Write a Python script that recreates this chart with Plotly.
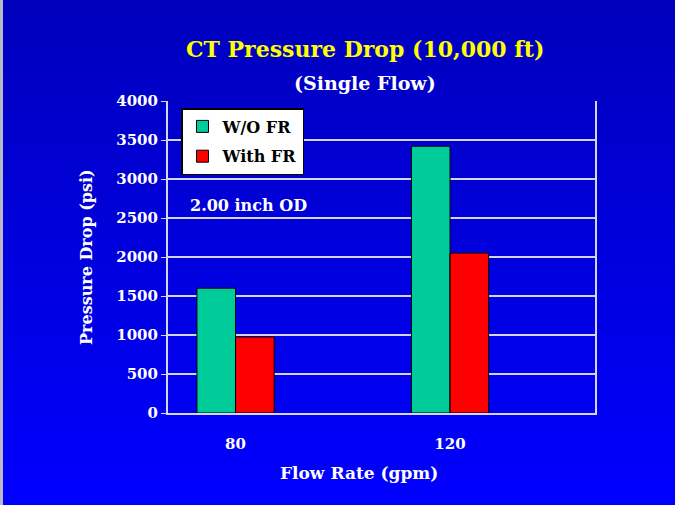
import base64
import plotly.graph_objects as go

categories = ["80", "120"]
wo_fr = [1600, 3420]
with_fr = [975, 2050]
series_names = ["W/O FR", "With FR"]
y_ticks = [0, 500, 1000, 1500, 2000, 2500, 3000, 3500, 4000]

W, H = 675, 505
ML, MR, MT, MB = 168, 80, 101, 92
PW, PH = W - ML - MR, H - MT - MB

SERIF = "DejaVu Serif, serif"

svg = (
    '<svg xmlns="http://www.w3.org/2000/svg" width="675" height="505" preserveAspectRatio="none">'
    '<defs><linearGradient id="g" x1="0" y1="0" x2="0" y2="1">'
    '<stop offset="0" stop-color="#0000BC"/><stop offset="1" stop-color="#0000FF"/>'
    '</linearGradient></defs><rect width="675" height="505" fill="url(#g)"/></svg>'
)
bg_src = "data:image/svg+xml;base64," + base64.b64encode(svg.encode()).decode()

fig = go.Figure()
fig.add_trace(go.Bar(x=categories, y=wo_fr, name=series_names[0], legendgroup="a",
                     marker=dict(color="#00CC99", line=dict(color="black", width=1))))
fig.add_trace(go.Bar(x=categories, y=with_fr, name=series_names[1], legendgroup="b",
                     marker=dict(color="#FF0000", line=dict(color="black", width=1))))

grid = "#D4D4F4"
fig.update_layout(
    width=W, height=H,
    margin=dict(l=ML, r=MR, t=MT, b=MB),
    paper_bgcolor="#0000DD",
    plot_bgcolor="rgba(0,0,0,0)",
    barmode="group", bargap=0.64, bargroupgap=0,
    showlegend=True,
    legend=dict(x=13 / PW, y=1 - 7 / PH, xanchor="left", yanchor="top",
                bgcolor="white", bordercolor="black", borderwidth=1.5,
                font=dict(family=SERIF, size=16, color="black", weight="bold"),
                tracegroupgap=6),
    images=[dict(source=bg_src, xref="paper", yref="paper",
                 x=-ML / PW, y=1 + MT / PH, sizex=W / PW, sizey=H / PH,
                 xanchor="left", yanchor="top", sizing="stretch", layer="below")],
    shapes=[dict(type="rect", xref="paper", yref="paper",
                 x0=-ML / PW, x1=(-ML + 3) / PW, y0=-MB / PH, y1=1 + MT / PH,
                 fillcolor="#B8B8C8", line=dict(width=0), layer="below")],
    xaxis=dict(type="category", range=[-0.315, 1.676], showgrid=False,
               showline=True, linecolor=grid, linewidth=2, ticks="",
               tickfont=dict(family=SERIF, size=15, color="white", weight="bold"),
               ticklabelstandoff=16, zeroline=False),
    yaxis=dict(range=[0, 4000], tickvals=y_ticks, showgrid=True, gridcolor=grid,
               gridwidth=1.5, showline=True, linecolor=grid, linewidth=2,
               mirror=True, ticks="outside", ticklen=5, tickcolor=grid,
               tickfont=dict(family=SERIF, size=15, color="white", weight="bold"),
               zeroline=False),
    annotations=[
        dict(text="CT Pressure Drop (10,000 ft)", xref="paper", yref="paper",
             x=(365 - ML) / PW, y=1 + (MT - 49) / PH, xanchor="center", yanchor="middle",
             showarrow=False, font=dict(family=SERIF, size=22, color="#FFFF00", weight="bold")),
        dict(text="(Single Flow)", xref="paper", yref="paper",
             x=(365 - ML) / PW, y=1 + (MT - 83) / PH, xanchor="center", yanchor="middle",
             showarrow=False, font=dict(family=SERIF, size=19, color="white", weight="bold")),
        dict(text="Pressure Drop (psi)", xref="paper", yref="paper",
             x=(86 - ML) / PW, y=(H - MB - 257) / PH, xanchor="center", yanchor="middle",
             textangle=-90, showarrow=False,
             font=dict(family=SERIF, size=16, color="white", weight="bold")),
        dict(text="Flow Rate (gpm)", xref="paper", yref="paper",
             x=(359 - ML) / PW, y=-(473 - (H - MB)) / PH, xanchor="center", yanchor="middle",
             showarrow=False, font=dict(family=SERIF, size=17, color="white", weight="bold")),
        dict(text="2.00 inch OD", xref="paper", yref="y",
             x=(188 - ML) / PW, y=2660, xanchor="left", yanchor="middle",
             showarrow=False, font=dict(family=SERIF, size=16, color="white", weight="bold")),
    ],
)

fig.write_html("out.html", config={"displayModeBar": False},
               post_script="document.body.style.margin='0';document.body.style.padding='0';")
